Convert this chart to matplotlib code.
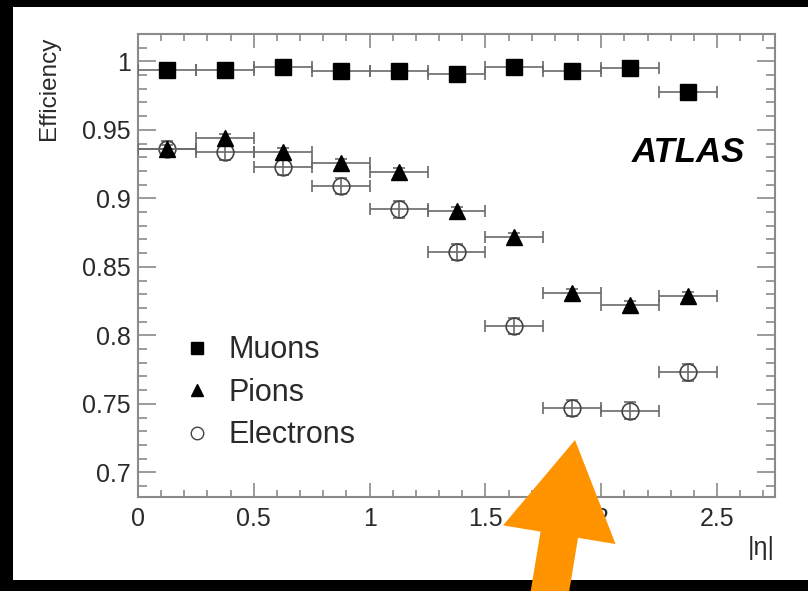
import matplotlib
matplotlib.use("Agg")
import matplotlib.pyplot as plt
from matplotlib.patches import Rectangle, FancyArrow
from matplotlib.lines import Line2D
from matplotlib.ticker import MultipleLocator

# ---------------- data ----------------
eta_centers = [0.125, 0.375, 0.625, 0.875, 1.125, 1.375, 1.625, 1.875, 2.125, 2.375]
eta_halfwidth = [0.125] * 10
muon_eff = [0.994, 0.994, 0.996, 0.993, 0.993, 0.991, 0.996, 0.993, 0.995, 0.978]
muon_err = [0.002] * 10
pion_eff = [0.936, 0.944, 0.934, 0.926, 0.919, 0.891, 0.872, 0.831, 0.822, 0.829]
pion_err = [0.003] * 10
electron_eff = [0.936, 0.934, 0.923, 0.909, 0.892, 0.861, 0.807, 0.747, 0.745, 0.773]
electron_err = [0.006] * 10
x_ticks = [0, 0.5, 1, 1.5, 2, 2.5]
x_ticklabels = ["0", "0.5", "1", "1.5", "2", "2.5"]
y_ticks = [0.7, 0.75, 0.8, 0.85, 0.9, 0.95, 1.0]
y_ticklabels = ["0.7", "0.75", "0.8", "0.85", "0.9", "0.95", "1"]
series_labels = ["Muons", "Pions", "Electrons"]

plt.rcParams['font.family'] = ['Liberation Sans', 'DejaVu Sans']

W, H = 808, 591
fig = plt.figure(figsize=(W / 100, H / 100), dpi=100, facecolor="black")

# white panel inside black border
panel = Rectangle((13 / W, (H - 580) / H), 1 - 13 / W, (580 - 7) / H,
                  transform=fig.transFigure, facecolor="white", edgecolor="none", zorder=-5)
fig.patches.append(panel)

left, right, top, bottom = 138, 775, 34, 497
ax = fig.add_axes([left / W, (H - bottom) / H, (right - left) / W, (bottom - top) / H])
ax.set_facecolor("white")
ax.set_zorder(1)

frame_col = "#8a8a8a"
err_col = "#6a6a6a"
txt_col = "#2a2a2a"

common = dict(linestyle="none", ecolor=err_col, elinewidth=1.2, capsize=4, capthick=1.2)
ax.errorbar(eta_centers, electron_eff, xerr=eta_halfwidth, yerr=electron_err,
            marker="o", ms=12, mfc="none", mec="#444444", mew=1.2, zorder=3, **common)
ax.errorbar(eta_centers, pion_eff, xerr=eta_halfwidth, yerr=pion_err,
            marker="^", ms=11, mfc="black", mec="black", zorder=4, **common)
ax.errorbar(eta_centers, muon_eff, xerr=eta_halfwidth, yerr=muon_err,
            marker="s", ms=12, mfc="black", mec="black", zorder=5, **common)

ax.set_xlim(0, 2.75)
ax.set_ylim(0.682, 1.02)

ax.set_xticks(x_ticks)
ax.set_xticklabels(x_ticklabels)
ax.set_yticks(y_ticks)
ax.set_yticklabels(y_ticklabels)
ax.xaxis.set_minor_locator(MultipleLocator(0.1))
ax.yaxis.set_minor_locator(MultipleLocator(0.01))

ax.tick_params(axis="x", which="major", direction="in", length=10, width=1.2, color=frame_col,
               top=True, bottom=True, labelsize=18, labelcolor=txt_col, pad=7)
ax.tick_params(axis="x", which="minor", direction="in", length=5, width=1.2, color=frame_col,
               top=True, bottom=True)
ax.tick_params(axis="y", which="major", direction="in", length=13, width=1.2, color=frame_col,
               left=True, right=True, labelsize=18, labelcolor=txt_col, pad=5)
ax.tick_params(axis="y", which="minor", direction="in", length=6.5, width=1.2, color=frame_col,
               left=True, right=True)
for sp in ax.spines.values():
    sp.set_color(frame_col)
    sp.set_linewidth(1.5)

ax.set_ylabel("Efficiency", fontsize=17.5, color=txt_col, loc="top")
ax.yaxis.set_label_coords(-0.122, 0.995)
ax.set_xlabel("|η|", fontsize=18, color=txt_col, loc="right")
ax.xaxis.set_label_coords(1.0, -0.085)

ax.text(0.953, 0.745, "ATLAS", transform=ax.transAxes, fontsize=25, fontweight="bold",
        fontstyle="italic", ha="right", va="center", color="black")

handles = [
    Line2D([], [], linestyle="none", marker="s", ms=9, mfc="black", mec="black"),
    Line2D([], [], linestyle="none", marker="^", ms=8, mfc="black", mec="black"),
    Line2D([], [], linestyle="none", marker="o", ms=9, mfc="none", mec="#444444", mew=1.0),
]
leg = ax.legend(handles, series_labels, loc="upper left", bbox_to_anchor=(0.068, 0.349),
                frameon=False, fontsize=22, handlelength=1.0, handletextpad=0.55,
                labelspacing=0.41, borderpad=0, borderaxespad=0)
for t in leg.get_texts():
    t.set_color(txt_col)

# orange arrow overlay (inches in figure space)
arrow = FancyArrow(5.45, -0.3, 0.30, 1.81, width=0.38, head_width=1.14, head_length=0.96,
                   length_includes_head=True, transform=fig.dpi_scale_trans,
                   facecolor="#ff9300", edgecolor="none", zorder=10)
fig.add_artist(arrow)
arrow.set_zorder(10)

fig.savefig("out.png", dpi=100, facecolor=fig.get_facecolor())
